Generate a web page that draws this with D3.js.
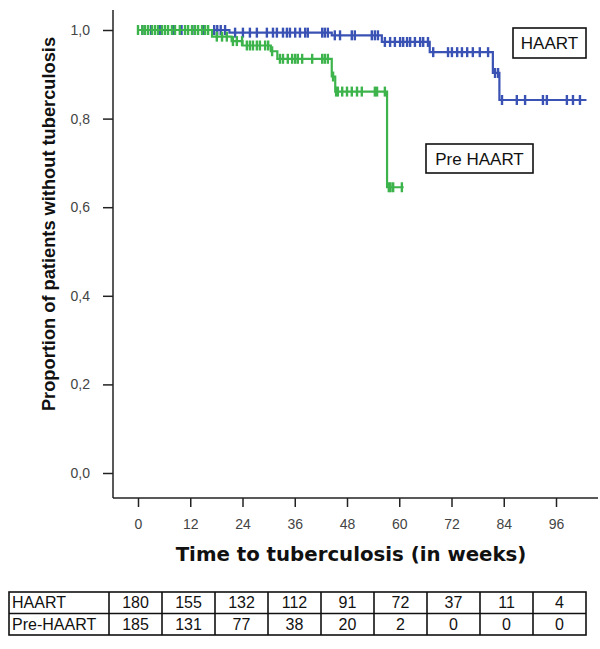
<!DOCTYPE html>
<html>
<head>
<meta charset="utf-8">
<script src="https://cdn.jsdelivr.net/npm/d3@7"></script>
<style>
  body { margin: 0; background: #fff; }
  svg { display: block; }
  .axis text { font-family: 'Liberation Sans', Arial, sans-serif; font-size: 14px; fill: #444; }
  .axis line { stroke: #222; stroke-width: 1.5; }
</style>
</head>
<body>
<svg id="km"></svg>
<script>
/// data ////////////////////////////////
const weekTicks = [0, 12, 24, 36, 48, 60, 72, 84, 96]
const propTicks = [0, 0.2, 0.4, 0.6, 0.8, 1.0]

// step curves: time the step begins, survival from there on
const haartTimes = [0, 21, 44.5, 56, 67, 81.5, 83, 103]
const haartSurv = [1, 0.994, 0.988, 0.973, 0.95, 0.903, 0.842, 0.842]
const preTimes = [0, 17, 21.5, 24, 30.5, 32, 44.5, 45.3, 57.2, 61]
const preSurv = [1, 0.985, 0.975, 0.965, 0.952, 0.935, 0.895, 0.861, 0.645, 0.645]

// censored observations (weeks)
const haartCensor = [1, 3, 5, 8, 10, 13, 15, 17.5, 18.2, 19, 20, 22.3, 24.1, 25.7, 27.3, 29.6, 31, 31.9,
  33.3, 34.2, 34.9, 36.1, 37.2, 38.4, 39, 42.3, 42.9, 43.6, 45.2, 46.4, 49.1, 49.8, 53.7, 54.4, 55.1,
  56.7, 57.9, 59, 60.2, 60.9, 61.8, 62.5, 63.6, 64.8, 65.5, 66.6, 67.8, 71.2, 72.1, 73.3, 74.4, 75.6,
  76.9, 78.5, 80.4, 82, 82.7, 83.6, 87, 88.9, 93, 93.9, 98.5, 99.9, 101.5]
const preCensor = [0, 1, 1.6, 2.3, 3.2, 3.9, 4.6, 5.5, 6.2, 6.9, 7.8, 8.5, 9.6, 10.8, 11.5, 12.4, 13.1,
  13.8, 14.7, 15.4, 16.1, 18.1, 19.3, 20.4, 21.8, 22.7, 23.9, 25, 25.7, 26.4, 27.3, 28, 29.2, 29.9,
  30.8, 32.6, 33.3, 34.4, 35.4, 36.1, 36.7, 37.7, 40, 42.3, 42.9, 43.6, 44.8, 45.5, 45.9, 46.9, 48,
  49.1, 50.3, 51.4, 54.4, 54.9, 56.7, 57.6, 58, 58.6, 60.6]

// numbers at risk
const riskGroups = ['HAART', 'Pre-HAART']
const haartRisk = [180, 155, 132, 112, 91, 72, 37, 11, 4]
const preRisk = [185, 131, 77, 38, 20, 2, 0, 0, 0]

const blue = '#3a52b4'
const green = '#3db44b'

const svg = d3.select('#km').attr('width', 600).attr('height', 649)

/// Scales ////////////////////////////////
const xScale = d3.scaleLinear().domain([0, 96]).range([138, 556])
const yScale = d3.scaleLinear().domain([0, 1]).range([473, 30])

const axisX = 113
const axisY = 498

// axis lines
svg.append('line')
  .attr('x1', axisX).attr('x2', axisX).attr('y1', 10).attr('y2', axisY)
  .attr('stroke', '#222').attr('stroke-width', 1.5)
svg.append('line')
  .attr('x1', axisX).attr('x2', 598).attr('y1', axisY).attr('y2', axisY)
  .attr('stroke', '#222').attr('stroke-width', 1.5)

const yAxis = svg.append('g')
  .attr('class', 'axis')
  .attr('transform', 'translate(' + axisX + ',0)')
  .call(d3.axisLeft(yScale).tickValues(propTicks).tickSize(10).tickPadding(13)
    .tickFormat(d => d3.format('.1f')(d).replace('.', ',')))
yAxis.select('.domain').remove()

const xAxis = svg.append('g')
  .attr('class', 'axis')
  .attr('transform', 'translate(0,' + axisY + ')')
  .call(d3.axisBottom(xScale).tickValues(weekTicks).tickSize(9).tickPadding(12))
xAxis.select('.domain').remove()

/// titles ////////////////////////////////
// shrink the font until the title spans the wanted width
function fitText(sel, target) {
  let size = +sel.attr('font-size')
  while (sel.node().getComputedTextLength() > target && size > 8) {
    size -= 0.25
    sel.attr('font-size', size)
  }
}

const yTitle = svg.append('text')
  .attr('transform', 'translate(55,224) rotate(-90)')
  .attr('text-anchor', 'middle')
  .attr('font-family', 'Liberation Sans, Arial, sans-serif')
  .attr('font-weight', 'bold')
  .attr('font-size', 19)
  .attr('fill', '#111')
  .text('Proportion of patients without tuberculosis')
fitText(yTitle, 378)

const xTitle = svg.append('text')
  .attr('x', 351).attr('y', 561)
  .attr('text-anchor', 'middle')
  .attr('font-family', 'DejaVu Sans, sans-serif')
  .attr('font-weight', 'bold')
  .attr('font-size', 20)
  .attr('fill', '#111')
  .text('Time to tuberculosis (in weeks)')
fitText(xTitle, 352)

/// curves ////////////////////////////////
const line = d3.line()
  .curve(d3.curveStepAfter)
  .x(d => xScale(d[0]))
  .y(d => yScale(d[1]))

function survAt(times, surv, t) {
  let s = surv[0]
  times.forEach((tt, i) => { if (tt <= t) s = surv[i] })
  return s
}

function drawCurve(times, surv, censor, color) {
  const g = svg.append('g')
  g.append('path')
    .attr('d', line(d3.zip(times, surv)))
    .attr('fill', 'none')
    .attr('stroke', color)
    .attr('stroke-width', 2.2)
  g.selectAll('line')
    .data(censor)
    .enter()
    .append('line')
    .attr('x1', d => xScale(d)).attr('x2', d => xScale(d))
    .attr('y1', d => yScale(survAt(times, surv, d)) - 5)
    .attr('y2', d => yScale(survAt(times, surv, d)) + 5)
    .attr('stroke', color)
    .attr('stroke-width', 2.4)
}

drawCurve(haartTimes, haartSurv, haartCensor, blue)
drawCurve(preTimes, preSurv, preCensor, green)

/// labels in boxes ////////////////////////////////
function boxLabel(x, y, w, h, label) {
  svg.append('rect')
    .attr('x', x).attr('y', y).attr('width', w).attr('height', h)
    .attr('fill', '#fff').attr('stroke', '#111').attr('stroke-width', 1.6)
  svg.append('text')
    .attr('x', x + w / 2).attr('y', y + h / 2 + 6)
    .attr('text-anchor', 'middle')
    .attr('font-family', 'Liberation Sans, Arial, sans-serif')
    .attr('font-size', 17)
    .attr('fill', '#111')
    .text(label)
}
boxLabel(513, 28, 73, 30, 'HAART')
boxLabel(426, 144, 107, 29, 'Pre HAART')

/// numbers at risk table ////////////////////////////////
const tableLeft = 9
const firstCol = 109
const tableRight = 586
const rowTop = [592, 613]
const rowH = 21.5
const colW = (tableRight - firstCol) / haartRisk.length

const table = svg.append('g')
table.append('rect')
  .attr('x', tableLeft).attr('y', rowTop[0])
  .attr('width', tableRight - tableLeft).attr('height', rowH * 2)
  .attr('fill', 'none').attr('stroke', '#111').attr('stroke-width', 1.6)
table.append('line')
  .attr('x1', tableLeft).attr('x2', tableRight)
  .attr('y1', rowTop[0] + rowH).attr('y2', rowTop[0] + rowH)
  .attr('stroke', '#111').attr('stroke-width', 1.6)
table.selectAll('.colLine')
  .data(d3.range(haartRisk.length))
  .enter()
  .append('line')
  .attr('class', 'colLine')
  .attr('x1', i => firstCol + i * colW).attr('x2', i => firstCol + i * colW)
  .attr('y1', rowTop[0]).attr('y2', rowTop[0] + rowH * 2)
  .attr('stroke', '#111').attr('stroke-width', 1.6)

const rows = [haartRisk, preRisk]
rows.forEach((vals, r) => {
  const yText = rowTop[0] + r * rowH + rowH / 2 + 5.5
  table.append('text')
    .attr('x', tableLeft + 3).attr('y', yText)
    .attr('font-family', 'Liberation Sans, Arial, sans-serif')
    .attr('font-size', 16)
    .attr('fill', '#111')
    .text(riskGroups[r])
  table.selectAll('.v' + r)
    .data(vals)
    .enter()
    .append('text')
    .attr('class', 'v' + r)
    .attr('x', (d, i) => firstCol + i * colW + colW / 2)
    .attr('y', yText)
    .attr('text-anchor', 'middle')
    .attr('font-family', 'Liberation Sans, Arial, sans-serif')
    .attr('font-size', 16)
    .attr('fill', '#111')
    .text(d => d)
})
</script>
</body>
</html>
